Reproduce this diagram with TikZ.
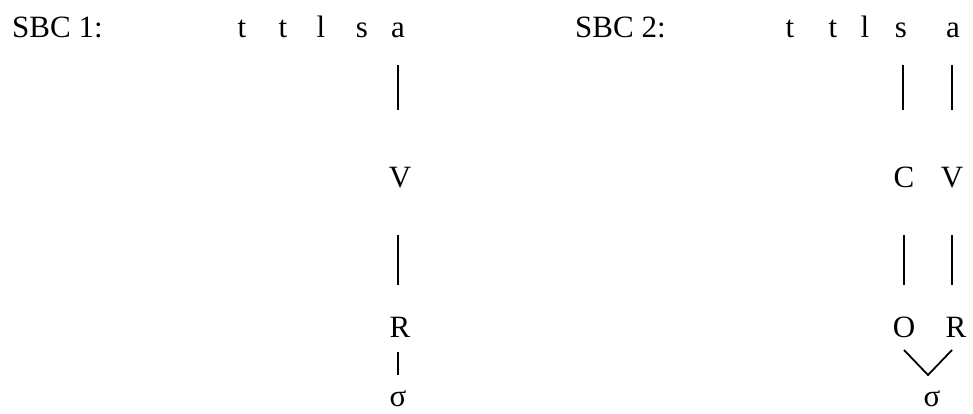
\documentclass[tikz,border=0pt]{standalone}
\usepackage{fontspec}
\setmainfont{Liberation Serif}
\begin{document}
\begin{tikzpicture}[x=1pt,y=1pt,
  lab/.style={inner sep=0pt,anchor=base,font=\fontsize{31}{37}\selectfont},
  conn/.style={line width=1.8pt}]
\useasboundingbox (0,0) rectangle (973,413);
% SBC 1
\node[lab,anchor=base west] (h1) at (12,375) {SBC 1:};
\node[lab] (t11) at (242,375) {t};
\node[lab] (t12) at (283,375) {t};
\node[lab] (l1) at (321,375) {l};
\node[lab] (s1) at (362,375) {s};
\node[lab] (a1) at (398,375) {a};
\node[lab] (V1) at (400,226) {V};
\node[lab] (R1) at (400,76) {R};
\node[lab] (g1) at (398,7) {σ};
\draw[conn,shorten <=27pt,shorten >=77pt] (a1.base) -- (a1.base |- V1.base);
\draw[conn,shorten <=48pt,shorten >=52pt] (a1.base |- V1.base) -- (a1.base |- R1.base);
\draw[conn,shorten <=15pt,shorten >=31pt] (a1.base |- R1.base) -- (a1.base |- g1.base);
% SBC 2
\node[lab,anchor=base west] (h2) at (575,375) {SBC 2:};
\node[lab] (t21) at (790,375) {t};
\node[lab] (t22) at (833,375) {t};
\node[lab] (l2) at (865,375) {l};
\node[lab] (s2) at (901,375) {s};
\node[lab] (a2) at (953,375) {a};
\node[lab] (C2) at (904,226) {C};
\node[lab] (V2) at (952,226) {V};
\node[lab] (O2) at (904,76) {O};
\node[lab] (R2) at (956,76) {R};
\node[lab] (g2) at (932,7) {σ};
\draw[conn,shorten <=27pt,shorten >=77pt] ([xshift=2pt]s2.base) -- ([xshift=2pt]s2.base |- C2.base);
\draw[conn,shorten <=27pt,shorten >=77pt] ([xshift=-1pt]a2.base) -- ([xshift=-1pt]a2.base |- V2.base);
\draw[conn,shorten <=48pt,shorten >=52pt] (C2.base) -- (C2.base |- O2.base);
\draw[conn,shorten <=48pt,shorten >=52pt] (V2.base) -- (V2.base |- R2.base);
\draw[conn] ([yshift=-13pt]O2.base) -- ([xshift=-4pt,yshift=31pt]g2.base) -- ([xshift=-4pt,yshift=-13pt]R2.base);
\end{tikzpicture}
\end{document}
